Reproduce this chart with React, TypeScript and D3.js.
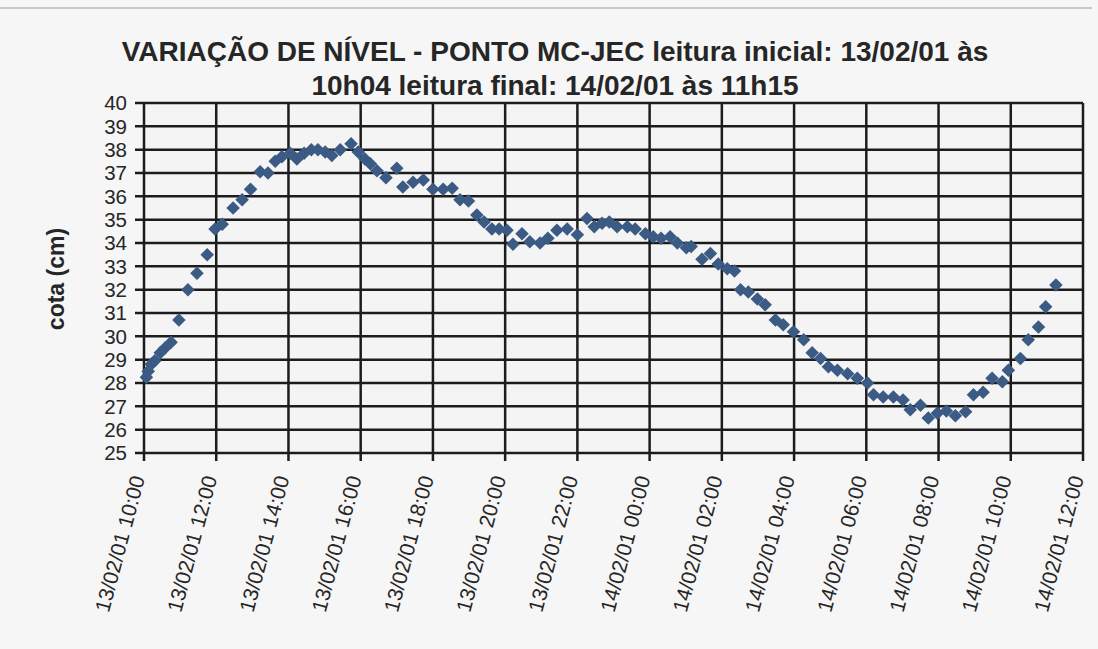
import React from 'react';
import * as d3 from 'd3';

// minutes after the first reading day at 10:00 (13/02/01)
const minutesFromStart = [
  4, 7, 12, 18, 27, 35, 45, 58, 73, 88, 105, 118, 130, 148, 163, 177, 193, 206, 218, 229,
  243, 254, 266, 278, 289, 301, 312, 326, 344, 356, 367, 376, 387, 402, 420, 430, 447, 464, 480, 497,
  512, 525, 539, 553, 565, 578, 590, 603, 613, 628, 641, 658, 671, 686, 703, 720, 736, 748, 761, 773,
  786, 803, 816, 833, 846, 859, 874, 886, 901, 909, 927, 941, 954, 969, 981, 991, 1004, 1019, 1032, 1049,
  1062, 1079, 1096, 1110, 1124, 1137, 1152, 1169, 1185, 1202, 1212, 1228, 1245, 1261, 1273, 1290, 1303, 1318, 1333, 1348,
  1365, 1378, 1394, 1409, 1426, 1436, 1456, 1469, 1486, 1498, 1515,
];

const cota = [
  28.25, 28.5, 28.8, 28.95, 29.3, 29.5, 29.75, 30.7, 32.0, 32.7, 33.5, 34.6, 34.8, 35.5, 35.85, 36.3, 37.05, 37.0, 37.5, 37.7,
  37.85, 37.6, 37.85, 38.0, 38.0, 37.9, 37.75, 38.0, 38.25, 37.9, 37.6, 37.4, 37.1, 36.8, 37.2, 36.4, 36.6, 36.7, 36.3, 36.3,
  36.35, 35.85, 35.8, 35.2, 34.9, 34.6, 34.6, 34.55, 33.95, 34.4, 34.05, 34.0, 34.2, 34.55, 34.6, 34.35, 35.05, 34.7, 34.85, 34.9,
  34.7, 34.7, 34.6, 34.4, 34.27, 34.2, 34.27, 34.0, 33.8, 33.85, 33.3, 33.55, 33.1, 32.9, 32.8, 32.0, 31.9, 31.6, 31.35, 30.7,
  30.5, 30.2, 29.85, 29.3, 29.05, 28.7, 28.55, 28.4, 28.2, 28.0, 27.5, 27.4, 27.4, 27.27, 26.85, 27.05, 26.5, 26.7, 26.8, 26.6,
  26.77, 27.5, 27.6, 28.2, 28.05, 28.55, 29.05, 29.85, 30.4, 31.27, 32.2,
];

const yTicks = [25, 26, 27, 28, 29, 30, 31, 32, 33, 34, 35, 36, 37, 38, 39, 40];

const titleLines = [
  'VARIAÇÃO DE NÍVEL - PONTO MC-JEC leitura inicial: 13/02/01 às',
  '10h04 leitura final: 14/02/01 às 11h15',
];
const yLabel = 'cota (cm)';

const W = 1098;
const H = 649;
const FONT = '"Liberation Sans", Arial, sans-serif';

export default function App() {
  const t0 = new Date(2001, 1, 13, 10, 0);
  const t1 = new Date(2001, 1, 14, 12, 0);
  const x = d3.scaleTime().domain([t0, t1]).range([144, 1083]);
  const y = d3.scaleLinear().domain([25, 40]).range([453, 103]);
  const xTicks = x.ticks(d3.timeHour.every(2));
  const fmt = d3.timeFormat('%d/%m/%y %H:%M');

  const points = minutesFromStart.map((m, i) => ({
    t: new Date(t0.getTime() + m * 60000),
    v: cota[i],
  }));

  const diamond = d3.symbol().type(d3.symbolSquare).size(92)();
  const grid = '#1c1c1c';

  return (
    <svg width={W} height={H} style={{ position: 'absolute', left: 0, top: 0, display: 'block' }}
      fontFamily={FONT}>
      <rect x={0} y={0} width={W} height={H} fill="#f6f6f6" />
      <line x1={0} x2={1092} y1={8} y2={8} stroke="#9a9a9a" strokeWidth={1} />

      {titleLines.map((s, i) => (
        <text key={i} x={555} y={61 + i * 34} textAnchor="middle" fontWeight="bold" fontSize={28} fill="#262626">
          {s}
        </text>
      ))}

      <text transform={`translate(64,279) rotate(-90)`} textAnchor="middle" fontWeight="bold" fontSize={23} fill="#262626">
        {yLabel}
      </text>

      <rect x={x.range()[0]} y={y(40)} width={x.range()[1] - x.range()[0]} height={y(25) - y(40)} fill="#f4f4f4" />

      {yTicks.map(v => (
        <g key={v}>
          <line x1={135} x2={x.range()[1]} y1={y(v)} y2={y(v)} stroke={grid} strokeWidth={2.5} />
          <text x={127} y={y(v)} dy="0.36em" textAnchor="end" fontSize={20.5} fill="#262626">{v}</text>
        </g>
      ))}

      {xTicks.map((t, i) => (
        <g key={i}>
          <line x1={x(t)} x2={x(t)} y1={y(40)} y2={y(25) + 8} stroke={grid} strokeWidth={2.5} />
          <text transform={`translate(${x(t) + 1},478) rotate(-75)`} textAnchor="end" fontSize={21} fill="#262626">
            {fmt(t)}
          </text>
        </g>
      ))}

      {points.map((p, i) => (
        <path key={i} d={diamond} transform={`translate(${x(p.t)},${y(p.v)}) rotate(45)`} fill="#3b5b85" />
      ))}
    </svg>
  );
}
